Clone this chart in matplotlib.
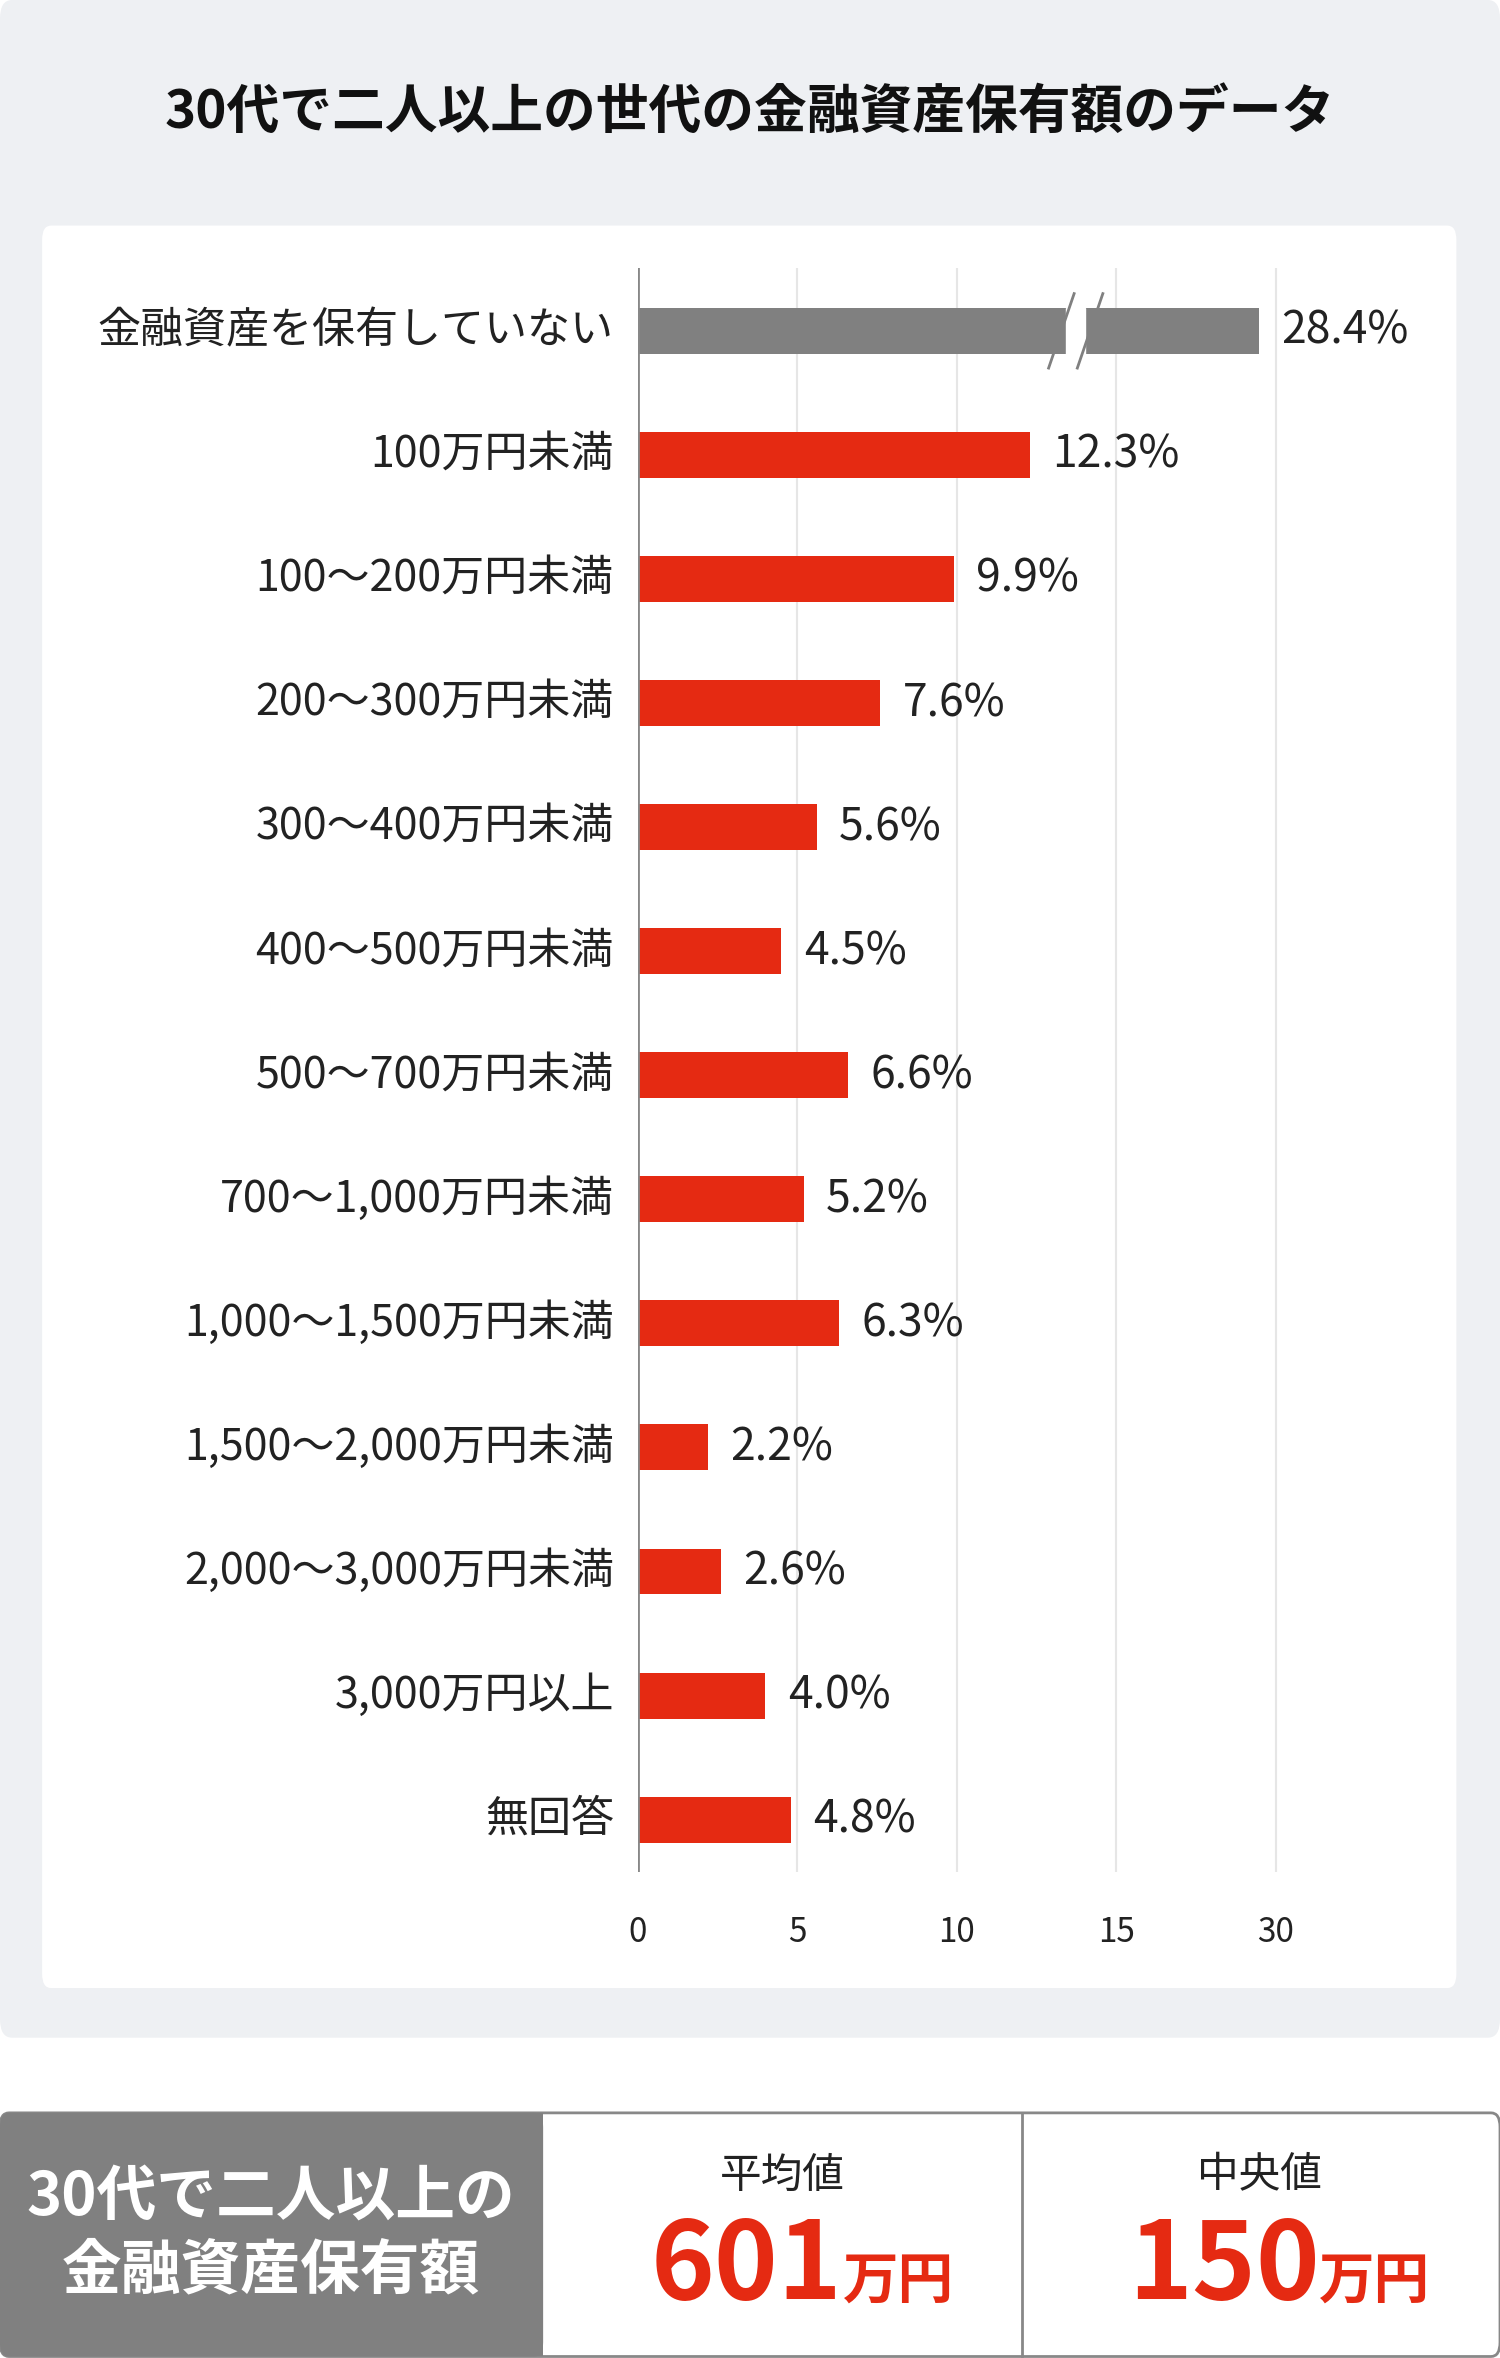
import matplotlib
matplotlib.use("Agg")
import matplotlib.pyplot as plt
from matplotlib.patches import FancyBboxPatch, Rectangle

plt.rcParams['font.family'] = ['Noto Sans CJK JP', 'DejaVu Sans']

categories = ["金融資産を保有していない", "100万円未満", "100～200万円未満", "200～300万円未満",
              "300～400万円未満", "400～500万円未満", "500～700万円未満", "700～1,000万円未満",
              "1,000～1,500万円未満", "1,500～2,000万円未満", "2,000～3,000万円未満",
              "3,000万円以上", "無回答"]
values = [28.4, 12.3, 9.9, 7.6, 5.6, 4.5, 6.6, 5.2, 6.3, 2.2, 2.6, 4.0, 4.8]
tick_values = [0, 5, 10, 15, 30]
title = "30代で二人以上の世代の金融資産保有額のデータ"
summary_label = "30代で二人以上の\n金融資産保有額"
mean_value, median_value = "601", "150"

W, H = 1500, 2358
RW, RH = 997, 1568
fig = plt.figure(figsize=(W/100, H/100), dpi=100)
fig.patch.set_facecolor('white')

def fx(x): return x / RW
def fy(y): return 1 - y / RH

def box(x0, y0, x1, y1, fc, ec='none', lw=0, r=0.0):
    p = FancyBboxPatch((fx(x0), fy(y1)), fx(x1)-fx(x0), fy(y0)-fy(y1),
                       boxstyle=f"round,pad=0,rounding_size={r}", fc=fc, ec=ec, lw=lw,
                       transform=fig.transFigure, zorder=0)
    fig.add_artist(p)

box(0, 0, 997, 1355, '#eef0f3', r=0.008)
box(28, 150, 968, 1322, 'white', r=0.006)
fig.text(0.5, fy(75), title, ha='center', va='center', fontsize=38, fontweight='bold', color='#111')

def mapv(v):
    return v if v <= 15 else 15 + (v - 15) / 3

unit = 21.2
ax_l, ax_r = 424, 968
ax_t, ax_b = 178, 1245
ax = fig.add_axes([fx(ax_l), fy(ax_b), fx(ax_r)-fx(ax_l), fy(ax_t)-fy(ax_b)])
ax.set_zorder(5)
ax.patch.set_visible(False)
ax.set_xlim(0, (ax_r - ax_l) / unit)
ax.set_ylim((ax_b-220)/82.5, (ax_t-220)/82.5)
ax.axis('off')
for t in tick_values[1:]:
    ax.axvline(mapv(t), color='#e6e6e6', lw=1.5, zorder=0)
ax.axvline(0, color='#888', lw=2, zorder=3)
for i, (c, v) in enumerate(zip(categories, values)):
    col = '#808080' if i == 0 else '#e52a12'
    ax.barh(i, mapv(v), height=0.37, color=col, zorder=2)
    ax.text(mapv(v) + 0.7, i, f"{v:.1f}%", va='center', ha='left', fontsize=32, color='#222')
    fig.text(fx(408), fy(220 + 82.5*i), c, ha='right', va='center', fontsize=31, color='#222')
# break marks
bx = (715 - 424) / unit
ax.add_patch(Rectangle((bx-0.3, -0.186), 0.6, 0.372, color='white', zorder=3))
for dx in (-0.45, 0.45):
    ax.plot([bx+dx-0.4, bx+dx+0.4], [0.3, -0.3], color='#808080', lw=2, zorder=5)
for t in tick_values:
    fig.text(fx(424 + mapv(t)*unit), fy(1285), str(t), ha='center', va='center', fontsize=24, color='#222')

# bottom summary
box(0, 1405, 997, 1567, 'white', ec='#888', lw=2, r=0.006)
box(0, 1405, 361, 1567, '#808080', r=0.006)
fig.add_artist(Rectangle((fx(300), fy(1567)), fx(61), fy(1405)-fy(1567), fc='#808080', ec='none', transform=fig.transFigure))
fig.add_artist(plt.Line2D([fx(679), fx(679)], [fy(1405), fy(1567)], color='#888', lw=2, transform=fig.transFigure))
fig.text(fx(180), fy(1486), summary_label, ha='center', va='center', fontsize=43, color='white', linespacing=1.3, fontweight='bold')
for cx, lab, val in [(520, "平均値", mean_value), (837, "中央値", median_value)]:
    fig.text(fx(cx), fy(1447), lab, ha='center', va='center', fontsize=30, color='#222')
    fig.text(fx(cx+40), fy(1508), val, ha='right', va='center', fontsize=78, fontweight='bold', color='#e52a12')
    fig.text(fx(cx+40), fy(1518), "万円", ha='left', va='center', fontsize=40, fontweight='bold', color='#e52a12')

fig.savefig("out.png", dpi=100)
